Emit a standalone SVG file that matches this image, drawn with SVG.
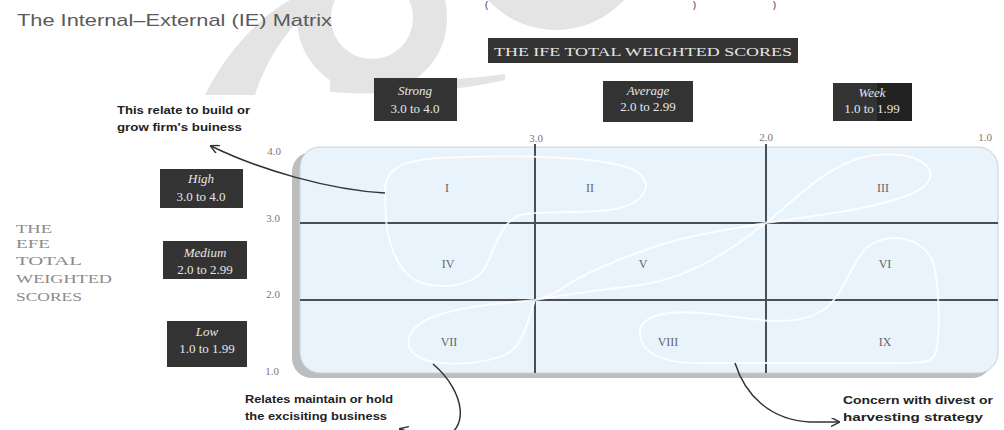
<svg xmlns="http://www.w3.org/2000/svg" width="1004" height="430" viewBox="0 0 1004 430">
<defs>
<style>
.wm{fill:#e4e4e4}
.wmr{fill:none;stroke:#e4e4e4}
.box{fill:#333}
.bt{font-family:"Liberation Serif",serif;font-size:13px;fill:#e6e6e6;text-anchor:middle}
.bi{font-style:italic}
.ax{font-family:"Liberation Serif",serif;font-size:11px;fill:#777;text-anchor:middle}
.rn{font-family:"Liberation Serif",serif;font-size:12px;fill:#666;text-anchor:middle}
.side{font-family:"Liberation Serif",serif;font-size:13px;fill:#8a8a8a}
.note{font-family:"Liberation Sans",sans-serif;font-size:10px;font-weight:bold;fill:#222}
.grid{stroke:#4a4f55;stroke-width:2}
.loop{fill:none;stroke:#fff;stroke-width:2;opacity:0.85}
.conn{fill:none;stroke:#333;stroke-width:1.5}
.cut{font-family:"Liberation Sans",sans-serif;font-size:9px;fill:#222}
</style>
<marker id="ah" viewBox="0 0 10 10" refX="9" refY="5" markerWidth="9" markerHeight="9" markerUnits="userSpaceOnUse" orient="auto">
<path d="M0,0 L10,5 L0,10" fill="none" stroke="#333" stroke-width="1.6"/>
</marker>
</defs>
<rect width="1004" height="430" fill="#fff"/>
<g id="watermark">
<circle class="wm" cx="556" cy="-62" r="92"/>
<circle class="wmr" cx="372" cy="18" r="58" stroke-width="34"/>
<path class="wm" d="M205,95 C225,55 255,20 290,0 L320,0 C290,25 268,55 255,95 Z"/>
<path class="wm" d="M330,78 C400,84 460,80 505,74 L505,80 C450,92 390,96 330,92 Z"/>
</g>
<g id="cut-line">
<text class="cut" x="485" y="8">(</text>
<text class="cut" x="693" y="8">)</text>
<text class="cut" x="773" y="8">)</text>
</g>
<g id="title">
<text x="17" y="26" font-family="Liberation Sans,sans-serif" font-size="17" fill="#5a5a5a" textLength="315" lengthAdjust="spacingAndGlyphs">The Internal–External (IE) Matrix</text>
</g>
<g id="header">
<rect class="box" x="488" y="38" width="310" height="25"/>
<text x="494" y="56" font-family="Liberation Serif,serif" font-size="13" fill="#e6e6e6" textLength="298" lengthAdjust="spacingAndGlyphs">THE IFE TOTAL WEIGHTED SCORES</text>
</g>
<g id="col-strong">
<rect class="box" x="374" y="78" width="83" height="43"/>
<text class="bt bi" x="415" y="95">Strong</text>
<text class="bt" x="415" y="113">3.0 to 4.0</text>
</g>
<g id="col-average">
<rect class="box" x="603" y="81" width="90" height="41"/>
<text class="bt bi" x="648" y="95">Average</text>
<text class="bt" x="648" y="111">2.0 to 2.99</text>
</g>
<g id="col-week">
<rect class="box" x="833" y="83" width="79" height="38"/>
<rect x="877" y="83" width="35" height="38" fill="#222"/>
<text class="bt bi" x="872" y="97">Week</text>
<text class="bt" x="872" y="113">1.0 to 1.99</text>
</g>
<g id="row-high">
<rect class="box" x="160" y="169" width="83" height="39"/>
<text class="bt bi" x="201" y="183">High</text>
<text class="bt" x="201" y="201">3.0 to 4.0</text>
</g>
<g id="row-medium">
<rect class="box" x="163" y="241" width="84" height="38"/>
<text class="bt bi" x="205" y="257">Medium</text>
<text class="bt" x="205" y="274">2.0 to 2.99</text>
</g>
<g id="row-low">
<rect class="box" x="167" y="321" width="80" height="46"/>
<text class="bt bi" x="207" y="336">Low</text>
<text class="bt" x="207" y="353">1.0 to 1.99</text>
</g>
<g id="side-label">
<text class="side" x="16" y="233" textLength="36" lengthAdjust="spacingAndGlyphs">THE</text>
<text class="side" x="16" y="248" textLength="34" lengthAdjust="spacingAndGlyphs">EFE</text>
<text class="side" x="16" y="265" textLength="66" lengthAdjust="spacingAndGlyphs">TOTAL</text>
<text class="side" x="16" y="283" textLength="96" lengthAdjust="spacingAndGlyphs">WEIGHTED</text>
<text class="side" x="16" y="301" textLength="66" lengthAdjust="spacingAndGlyphs">SCORES</text>
</g>
<g id="matrix">
<rect x="292" y="152" width="700" height="226" rx="20" fill="#bdbdbd"/>
<rect x="300" y="147" width="698" height="226" rx="20" fill="#e8f3fc" stroke="#c8d2da" stroke-width="1"/>
<line class="grid" x1="300" y1="223" x2="998" y2="223"/>
<line class="grid" x1="300" y1="300" x2="998" y2="300"/>
<line class="grid" x1="535" y1="144" x2="535" y2="373"/>
<line class="grid" x1="766" y1="144" x2="766" y2="373"/>
<text class="ax" x="274" y="155">4.0</text>
<text class="ax" x="273" y="222">3.0</text>
<text class="ax" x="273" y="298">2.0</text>
<text class="ax" x="272" y="375">1.0</text>
<text class="ax" x="536" y="142">3.0</text>
<text class="ax" x="766" y="141">2.0</text>
<text class="ax" x="985" y="141">1.0</text>
</g>
<g id="cells">
<text class="rn" x="447" y="192">I</text>
<text class="rn" x="590" y="192">II</text>
<text class="rn" x="883" y="192">III</text>
<text class="rn" x="448" y="268">IV</text>
<text class="rn" x="643" y="268">V</text>
<text class="rn" x="885" y="268">VI</text>
<text class="rn" x="449" y="346">VII</text>
<text class="rn" x="668" y="346">VIII</text>
<text class="rn" x="885" y="346">IX</text>
</g>
<g id="loops">
<path class="loop" d="M385,195 C383,170 400,160 440,158 C500,155 590,155 630,168 C655,178 650,200 620,208 C590,215 540,210 520,215 C500,222 495,250 485,268 C475,285 440,292 415,280 C395,268 388,240 386,220 Z"/>
<path class="loop" d="M766,223 C790,205 820,170 860,158 C900,148 935,160 930,178 C925,195 880,205 840,212 C810,217 785,220 766,223 C740,228 700,232 660,245 C620,258 580,275 560,290 C550,296 542,298 535,300 C510,303 460,305 430,318 C405,330 400,350 425,360 C455,368 500,362 515,348 C525,335 530,315 535,300 C555,296 600,290 640,285 C690,278 730,250 750,235 C758,228 762,225 766,223 Z"/>
<path class="loop" d="M640,335 C638,318 660,310 700,313 C740,316 790,330 820,312 C845,298 850,260 870,245 C895,230 930,240 935,270 C940,300 940,340 935,355 C930,365 910,363 880,363 L700,363 C660,363 642,352 640,335 Z"/>
</g>
<g id="connectors">
<path class="conn" d="M385,193 C330,190 260,170 211,146" marker-end="url(#ah)"/>
<path class="conn" d="M433,364 C466,392 470,432 440,438 C425,441 412,432 400,429" marker-end="url(#ah)"/>
<path class="conn" d="M735,363 C745,395 770,420 810,422 L839,422" marker-end="url(#ah)"/>
</g>
<g id="notes">
<text class="note" x="117" y="114" textLength="133" lengthAdjust="spacingAndGlyphs">This relate to build or</text>
<text class="note" x="117" y="131" textLength="125" lengthAdjust="spacingAndGlyphs">grow firm's buiness</text>
<text class="note" x="245" y="403" textLength="148" lengthAdjust="spacingAndGlyphs">Relates maintain or hold</text>
<text class="note" x="245" y="420" textLength="142" lengthAdjust="spacingAndGlyphs">the excisiting business</text>
<text class="note" x="843" y="404" textLength="150" lengthAdjust="spacingAndGlyphs">Concern with divest or</text>
<text class="note" x="843" y="421" textLength="140" lengthAdjust="spacingAndGlyphs">harvesting strategy</text>
</g>
</svg>
